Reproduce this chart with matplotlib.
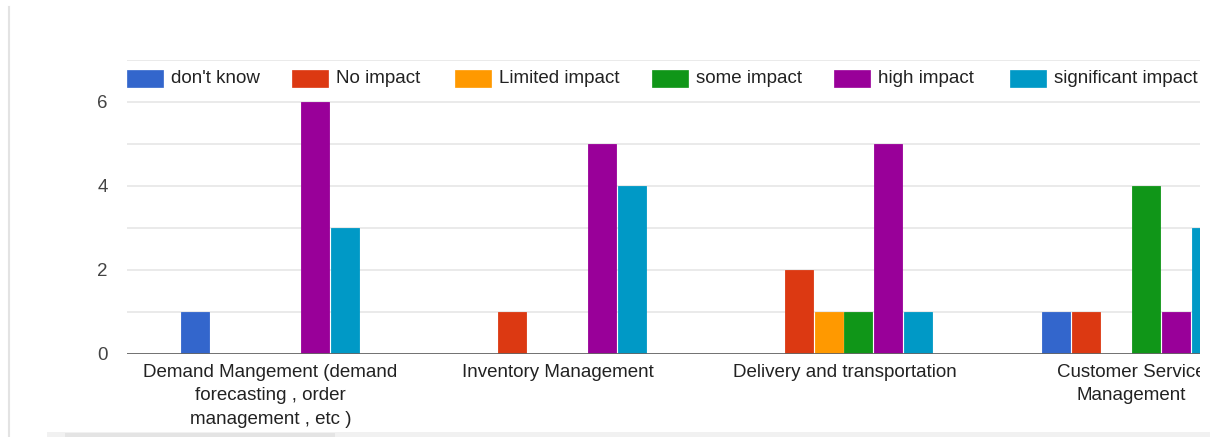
import matplotlib
matplotlib.use("Agg")
import matplotlib.pyplot as plt
from matplotlib.patches import Rectangle
import numpy as np

plt.rcParams['font.family'] = ['Liberation Sans', 'DejaVu Sans']

categories = [
    "Demand Mangement (demand\nforecasting , order\nmanagement , etc )",
    "Inventory Management",
    "Delivery and transportation",
    "Customer Service\nManagement",
]
series_names = ["don't know", "No impact", "Limited impact",
                "some impact", "high impact", "significant impact"]
dont_know = [1, 0, 0, 1]
no_impact = [0, 1, 2, 1]
limited_impact = [0, 0, 1, 0]
some_impact = [0, 0, 1, 4]
high_impact = [6, 5, 5, 1]
significant_impact = [3, 4, 1, 3]
series_values = [dont_know, no_impact, limited_impact,
                 some_impact, high_impact, significant_impact]
colors = ["#3366cc", "#dc3912", "#ff9900", "#109618", "#990099", "#0099c6"]

W, H = 1210, 437
fig = plt.figure(figsize=(W / 100, H / 100), dpi=100)

# plot area (extends past the right edge of the canvas)
left, right, top, base = 127, 1275, 60, 354
ax = fig.add_axes([left / W, (H - base) / H, (right - left) / W, (base - top) / H])

x = np.arange(len(categories))
slot = 30 / 287
bw = 28 / 287
for i, (vals, c) in enumerate(zip(series_values, colors)):
    ax.bar(x + (i - 2.5) * slot - 1 / 287, vals, width=bw, color=c, zorder=3,
           edgecolor=c, linewidth=0.6)

ax.set_xlim(-0.5, len(categories) - 0.5)
ax.set_ylim(0, 7)
ax.set_yticks([0, 2, 4, 6])
ax.set_yticks([1, 3, 5, 7], minor=True)
ax.grid(axis='y', which='both', color='#e6e6e6', linewidth=1.2, zorder=0)
ax.axhline(0, color='#666666', linewidth=2.0, zorder=4)
for s in ax.spines.values():
    s.set_visible(False)
ax.tick_params(axis='both', which='both', length=0)
ax.tick_params(axis='y', labelsize=13.5, labelcolor='#444444', pad=14)
ax.set_xticks(x)
ax.set_xticklabels(categories, fontsize=13.5, color='#222222', linespacing=1.5,
                   va='top')
ax.tick_params(axis='x', pad=7)

# legend row
leg_x = [127, 292, 455, 652, 834, 1010]
for lx, name, c in zip(leg_x, series_names, colors):
    fig.add_artist(Rectangle((lx / W, (H - 87) / H), 36 / W, 17 / H,
                             transform=fig.transFigure, facecolor=c,
                             edgecolor=c, linewidth=0.5, zorder=5))
    fig.text((lx + 44) / W, (H - 78.5) / H, name, fontsize=13.5,
             color='#222222', va='center', ha='left', zorder=6)

# frame pieces around the chart
fig.add_artist(Rectangle((1200 / W, 0), 10 / W, 1, transform=fig.transFigure,
                         facecolor='white', edgecolor='none', zorder=4))
fig.add_artist(plt.Line2D([8.5 / W, 8.5 / W], [0, (H - 7) / H],
                          transform=fig.transFigure, color='#e3e3e3',
                          linewidth=1.5, zorder=7))
fig.add_artist(Rectangle((47 / W, 0), (W - 47) / W, 5 / H,
                         transform=fig.transFigure, facecolor='#f1f1f1',
                         edgecolor='none', zorder=7))
fig.add_artist(Rectangle((65 / W, 0), 270 / W, 4 / H,
                         transform=fig.transFigure, facecolor='#e4e4e4',
                         edgecolor='none', zorder=8))

fig.savefig("out.png", dpi=100, facecolor='white')
